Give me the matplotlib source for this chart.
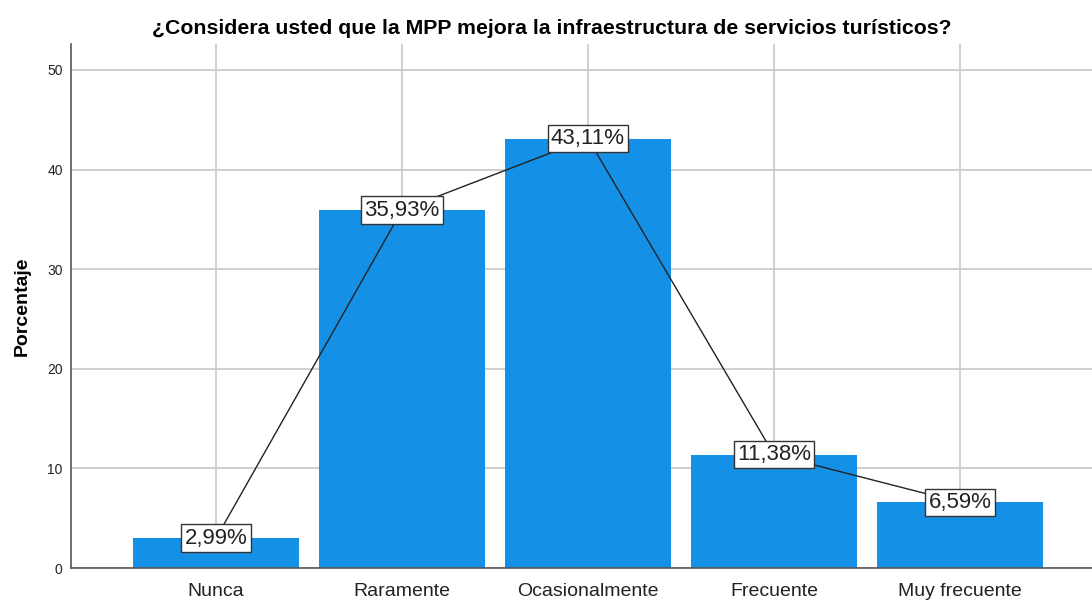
import matplotlib
matplotlib.use("Agg")
import matplotlib.pyplot as plt
import numpy as np

plt.rcParams['font.family'] = ['Liberation Sans', 'DejaVu Sans']

categorias = ["Nunca", "Raramente", "Ocasionalmente", "Frecuente", "Muy frecuente"]
porcentajes = [2.99, 35.93, 43.11, 11.38, 6.59]
etiquetas = ["2,99%", "35,93%", "43,11%", "11,38%", "6,59%"]
yticks = [0, 10, 20, 30, 40, 50]

fig = plt.figure(figsize=(10.92, 6.0), dpi=100)
ax = fig.add_axes([0.065, 0.0533, 0.935, 0.8734])

x = np.arange(len(categorias))

# grid behind everything
ax.set_axisbelow(True)
ax.grid(True, color="#c8c8c8", linewidth=1.2)

ax.bar(x, porcentajes, width=0.89, color="#1490e6", zorder=2)
ax.plot(x, porcentajes, color="#222222", linewidth=1.0, zorder=3)

for xi, v, t in zip(x, porcentajes, etiquetas):
    ax.text(xi, v, t, ha="center", va="center", fontsize=16, zorder=4,
            color="#222222",
            bbox=dict(boxstyle="square,pad=0.15", facecolor="white",
                      edgecolor="#333333", linewidth=1.0))

ax.set_xlim(-0.78, 4.71)
ax.set_ylim(0, 52.6)
ax.set_xticks(x)
ax.set_xticklabels(categorias, fontsize=14, color="#222222")
ax.set_yticks(yticks)
ax.set_yticklabels([str(t) for t in yticks], fontsize=10, color="#222222")
ax.tick_params(length=0, pad=6)
ax.tick_params(axis="x", pad=11)

for s in ["top", "right"]:
    ax.spines[s].set_visible(False)
for s in ["left", "bottom"]:
    ax.spines[s].set_color("#555555")
    ax.spines[s].set_linewidth(1.2)

ax.set_ylabel("Porcentaje", fontsize=14, fontweight="bold", labelpad=12)
fig.text(0.505, 0.952, "¿Considera usted que la MPP mejora la infraestructura de servicios turísticos?",
         ha="center", va="center", fontsize=15.3, fontweight="bold")

fig.savefig("out.png", dpi=100)
